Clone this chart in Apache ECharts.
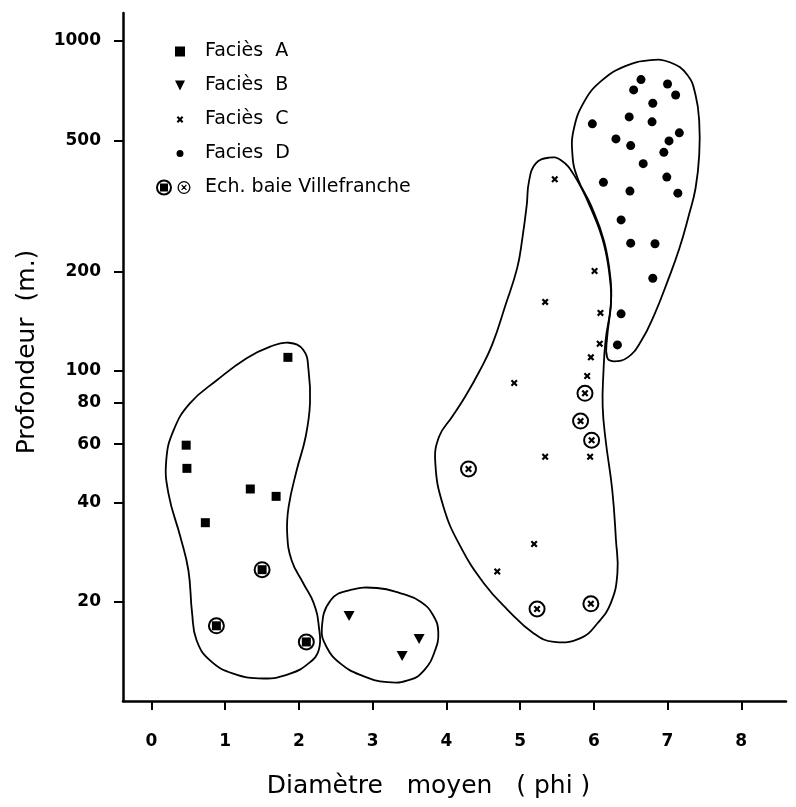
<!DOCTYPE html>
<html>
<head>
    <meta charset="UTF-8">
    <script type="text/javascript" src="https://cdn.jsdelivr.net/npm/echarts@6/dist/echarts.min.js"></script>
    <style type="text/css">
        *{ margin: 0; padding: 0; }
        #main{ width: 796px; height: 807px; background: #fff; }
    </style>
</head>
<body>
<div id="main"></div>
<script type="text/javascript">

    // ticks
    var xTicks = [0, 1, 2, 3, 4, 5, 6, 7, 8];
    var yTicks = [20, 40, 60, 80, 100, 200, 500, 1000];

    // points [phi, depth m]
    var faciesA = [[1.85, 110], [0.47, 59.6], [0.48, 50.7], [1.34, 43.9], [1.69, 41.7], [0.73, 34.7]];
    var villeA = [[1.50, 25.0], [0.88, 16.9], [2.10, 15.1]];
    var faciesB = [[2.68, 18.1], [3.63, 15.4], [3.40, 13.7]];
    var faciesC = [[5.47, 381], [6.01, 201], [5.34, 162], [6.09, 150], [6.08, 121], [5.96, 110],
        [5.91, 96.6], [4.92, 92], [5.34, 55], [5.95, 55], [5.19, 29.9], [4.69, 24.7]];
    var villeC = [[5.88, 85.6], [5.82, 70.5], [5.97, 61.7], [4.30, 50.5], [5.23, 19.0], [5.96, 19.7]];
    var faciesD = [[6.64, 764], [7.00, 741], [6.54, 711], [7.11, 686], [6.80, 648], [6.48, 589],
        [5.98, 561], [6.79, 569], [7.16, 527], [6.30, 505], [7.02, 498], [6.50, 482], [6.95, 460],
        [6.67, 425], [6.13, 373], [6.99, 387], [6.49, 351], [7.14, 346], [6.37, 287], [6.50, 244],
        [6.83, 243], [6.80, 191], [6.37, 149], [6.32, 120]];

    // hand drawn envelopes
    var blobA = [[1.86, 121.8], [2.06, 115.8], [2.13, 100.7], [2.15, 80.0], [2.09, 63.1], [1.97, 50.1],
        [1.86, 38.8], [1.84, 32.3], [1.90, 26.7], [2.06, 22.7], [2.20, 19.8], [2.27, 16.8], [2.27, 14.3],
        [2.13, 13.0], [1.88, 12.1], [1.52, 11.7], [1.11, 12.1], [0.79, 13.3], [0.61, 15.3], [0.55, 18.5],
        [0.50, 24.9], [0.39, 31.5], [0.23, 42.5], [0.20, 53.7], [0.30, 66.2], [0.52, 79.8], [0.89, 93.9],
        [1.29, 109.3], [1.61, 118.5]];
    var blobB = [[2.31, 16.6], [2.43, 20.2], [2.70, 21.7], [3.06, 22.0], [3.38, 21.2], [3.65, 20.0],
        [3.82, 18.2], [3.89, 16.2], [3.84, 14.1], [3.70, 12.4], [3.51, 11.6], [3.20, 11.4], [2.83, 12.0],
        [2.56, 13.0], [2.38, 14.5]];
    var blobC = [[5.39, 443], [5.55, 436], [5.73, 393], [5.96, 311], [6.14, 241], [6.23, 180], [6.23, 157],
        [6.16, 124], [6.13, 98.4], [6.12, 78], [6.16, 61.8], [6.25, 43.6], [6.30, 30.8], [6.32, 24.4],
        [6.23, 19.8], [6.05, 17.2], [5.82, 15.5], [5.46, 15.1], [5.19, 16.0], [4.83, 18.9], [4.51, 22.7],
        [4.19, 29.4], [3.96, 38.8], [3.85, 52.5], [3.90, 63.2], [4.08, 72.8], [4.26, 84], [4.45, 100],
        [4.62, 120], [4.80, 158], [4.96, 205], [5.03, 252], [5.09, 318], [5.12, 375], [5.21, 425]];
    var blobD = [[6.77, 875], [7.04, 861], [7.27, 789], [7.38, 686], [7.43, 569], [7.43, 452], [7.38, 358],
        [7.29, 297], [7.16, 235], [7.00, 187], [6.82, 148], [6.64, 123], [6.46, 110], [6.27, 107],
        [6.18, 110], [6.18, 126], [6.23, 158], [6.23, 187], [6.14, 247], [5.96, 318], [5.78, 384],
        [5.71, 452], [5.73, 543], [5.87, 655], [6.09, 753], [6.41, 836]];

    var FONT = 'DejaVu Sans';
    var crossPath = 'path://M0 2.2 L2.2 0 L5 2.8 L7.8 0 L10 2.2 L7.2 5 L10 7.8 L7.8 10 L5 7.2 L2.2 10 L0 7.8 L2.8 5 Z';

    // legend icons, all in one 45x17 frame so they line up
    var frame = 'M0 0 L0 0 Z M45 17 L45 17 Z ';
    var iconA = 'path://' + frame + 'M20 3.5 L30 3.5 L30 13.5 L20 13.5 Z';
    var iconB = 'path://' + frame + 'M20 3.5 L30 3.5 L25 13.5 Z';
    var iconC = 'path://' + frame + 'M21.6 6.6 L23.1 5.1 L28.4 10.4 L26.9 11.9 Z M26.9 5.1 L28.4 6.6 L23.1 11.9 L21.6 10.4 Z';
    var iconD = 'path://' + frame + 'M21.5 8.5 A3.5 3.5 0 1 1 28.5 8.5 A3.5 3.5 0 1 1 21.5 8.5 Z';
    var iconV = 'path://' + frame +
        'M1 8.5 A8 8 0 1 1 17 8.5 A8 8 0 1 1 1 8.5 Z M3 8.5 A6 6 0 1 0 15 8.5 A6 6 0 1 0 3 8.5 Z ' +
        'M5 4.5 L13 4.5 L13 12.5 L5 12.5 Z ' +
        'M22.5 8.5 A6.5 6.5 0 1 1 35.5 8.5 A6.5 6.5 0 1 1 22.5 8.5 Z M23.8 8.5 A5.2 5.2 0 1 0 34.2 8.5 A5.2 5.2 0 1 0 23.8 8.5 Z ' +
        'M26.2 6.4 L27 5.6 L31.8 10.4 L31 11.2 Z M31 5.6 L31.8 6.4 L27 11.2 L26.2 10.4 Z';

    function blob(pts) {
        return {
            type: 'custom',
            silent: true,
            z: 1,
            data: pts,
            renderItem: function (params, api) {
                if (params.dataIndex !== 0) return null;
                return {
                    type: 'polygon',
                    shape: { points: pts.map(function (p) { return api.coord(p); }), smooth: 0.45 },
                    style: { fill: 'none', stroke: '#000', lineWidth: 1.8 }
                };
            }
        };
    }

    var black = { color: '#000', borderWidth: 0, opacity: 1 };
    var dot = { color: '#000', opacity: 1 };

    var myChart = echarts.init(document.getElementById('main'));
    var option = {
        backgroundColor: '#fff',
        animation: false,
        grid: { left: 123, right: 10, top: 13, bottom: 106, outerBoundsMode: 'none' },
        legend: {
            orient: 'vertical',
            left: 150,
            top: 37,
            itemWidth: 45,
            itemHeight: 17,
            itemGap: 15,
            selectedMode: false,
            itemStyle: black,
            textStyle: { fontFamily: FONT, fontSize: 19, color: '#000' },
            data: [
                { name: 'Faciès  A', icon: iconA, itemStyle: black },
                { name: 'Faciès  B', icon: iconB, itemStyle: black },
                { name: 'Faciès  C', icon: iconC, itemStyle: black },
                { name: 'Facies  D', icon: iconD, itemStyle: black },
                { name: 'Ech. baie Villefranche', icon: iconV, itemStyle: black }
            ]
        },
        xAxis: {
            type: 'value',
            min: -0.387,
            max: 8.607,
            name: 'Diamètre   moyen   ( phi )',
            nameLocation: 'middle',
            nameGap: 73,
            nameTextStyle: { fontFamily: FONT, fontSize: 25, color: '#000', padding: [0, 52, 0, 0] },
            axisLine: { onZero: false, lineStyle: { color: '#000', width: 2.5 } },
            axisTick: { customValues: xTicks, length: 9, lineStyle: { color: '#000', width: 2 } },
            axisLabel: {
                customValues: xTicks,
                margin: 32,
                fontFamily: FONT, fontSize: 17, fontWeight: 'bold', color: '#000'
            },
            splitLine: { show: false }
        },
        yAxis: {
            type: 'log',
            logBase: 10,
            min: 10,
            max: 1216,
            name: 'Profondeur  (m.)',
            nameLocation: 'middle',
            nameGap: 83,
            nameTextStyle: { fontFamily: FONT, fontSize: 25, color: '#000', padding: [0, 0, 0, 10] },
            axisLine: { onZero: false, lineStyle: { color: '#000', width: 2.5 } },
            axisTick: { customValues: yTicks, length: 9, lineStyle: { color: '#000', width: 2 } },
            axisLabel: {
                customValues: yTicks,
                margin: 22,
                formatter: function (v) { return String(Math.round(v)); },
                fontFamily: FONT, fontSize: 17, fontWeight: 'bold', color: '#000'
            },
            minorTick: { show: false },
            splitLine: { show: false }
        },
        series: [
            blob(blobA),
            blob(blobB),
            blob(blobC),
            blob(blobD),
            {
                name: 'Faciès  A', type: 'scatter', z: 3,
                symbol: 'rect', symbolSize: 9,
                itemStyle: dot,
                data: faciesA.concat(villeA)
            },
            {
                name: 'Faciès  B', type: 'scatter', z: 3,
                symbol: 'triangle', symbolRotate: 180, symbolSize: [11, 10],
                itemStyle: dot,
                data: faciesB
            },
            {
                name: 'Faciès  C', type: 'scatter', z: 3,
                symbol: crossPath, symbolSize: 7,
                itemStyle: dot,
                data: faciesC.concat(villeC)
            },
            {
                name: 'Facies  D', type: 'scatter', z: 3,
                symbol: 'circle', symbolSize: 9,
                itemStyle: dot,
                data: faciesD
            },
            {
                name: 'Ech. baie Villefranche', type: 'scatter', z: 4,
                symbol: 'circle', symbolSize: 15,
                itemStyle: { color: 'rgba(0,0,0,0)', borderColor: '#000', borderWidth: 2, opacity: 1 },
                data: villeA.concat(villeC)
            }
        ]
    };
    myChart.setOption(option);

</script>
</body>
</html>
